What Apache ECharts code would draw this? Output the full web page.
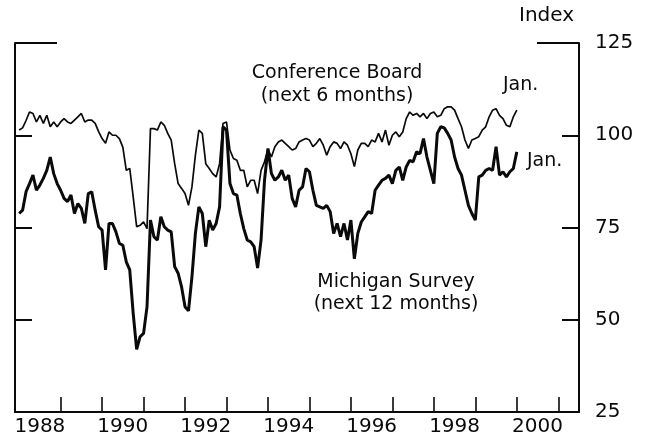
<!DOCTYPE html>
<html>
<head>
<meta charset="utf-8">
<script src="https://cdn.jsdelivr.net/npm/echarts@6/dist/echarts.min.js"></script>
<style>
html, body { margin: 0; padding: 0; background: #fff; }
#chart { width: 650px; height: 448px; }
</style>
</head>
<body>
<div id="chart"></div>
<script>
// monthly, Jan 1988 .. Jan 2000
var startYear = 1988;
var conferenceBoard = [
	101.4, 102, 104, 106.3, 105.9, 103.6, 105.4, 103.2, 105.4, 102.3, 103.6, 102.3,
	103.6, 104.5, 103.6, 103.2, 104.1, 105, 105.9, 103.6, 104.1, 104.1, 103.2, 101,
	99.1, 97.8, 100.9, 100, 100, 99.1, 96.8, 90.5, 91, 83.3, 75.2, 75.6,
	76.5, 74.7, 101.8, 101.8, 101.4, 103.6, 102.7, 100.5, 98.7, 92.3, 86.9, 85.6,
	84.2, 81, 86, 94.6, 101.4, 100.5, 92.3, 91, 89.6, 88.7, 92.3, 103.2,
	103.6, 96, 93.7, 93.2, 90.5, 90.5, 86, 87.8, 87.8, 84.2, 90.5, 92.8,
	96.2, 94.1, 96.9, 98.2, 98.7, 97.8, 96.9, 96, 96.4, 98.2, 98.7, 99.1,
	98.7, 96.9, 97.8, 99.1, 97.3, 94.6, 96.9, 98.2, 97.8, 96.4, 98.2, 97.3,
	95, 91.5, 96, 97.8, 97.8, 96.9, 98.7, 98.2, 100.5, 98.2, 101.4, 97.3,
	100, 100.9, 99.6, 100.9, 104.5, 106.3, 105.4, 105.9, 105, 105.9, 104.5, 105.9,
	106.3, 105, 105.4, 107.2, 107.7, 107.7, 106.8, 104.5, 102.3, 98.7, 96.4, 98.7,
	99.1, 99.6, 101.4, 102.3, 105, 106.8, 107.2, 105.4, 104.5, 102.7, 102.3, 105,
	106.8
];
var michigan = [
	78.8, 79.7, 84.7, 86.9, 89.2, 85.1, 86.5, 88.3, 90.5, 94.1, 89.6, 86.9,
	85.1, 82.9, 82, 83.8, 78.8, 81.5, 80.2, 76.1, 84.2, 84.7, 79.7, 75.2,
	74.3, 63.5, 76.1, 76.1, 73.8, 70.7, 70.2, 65.7, 63.5, 51.7, 42, 45.4,
	46.3, 53.5, 77, 72.5, 71.6, 77.9, 75.2, 74.3, 73.8, 64.4, 62.6, 58.9,
	53.5, 52.4, 61.6, 73.4, 80.6, 78.8, 69.8, 77, 74.3, 76.1, 80.6, 102.3,
	101.4, 86.9, 84.2, 83.8, 78.8, 74.7, 71.6, 71.1, 69.8, 64, 71.6, 87.8,
	96.4, 89.6, 87.8, 88.7, 90.5, 87.8, 89.2, 82.9, 80.6, 85.1, 86, 91,
	90.1, 85.1, 81, 80.6, 80.2, 81, 79.3, 73.4, 76.1, 72.5, 76.1, 71.6,
	77, 66.5, 73.4, 76.5, 77.9, 79.3, 78.8, 85.1, 86.5, 87.8, 88.3, 89.2,
	86.9, 90.5, 91.4, 87.8, 91.4, 93.2, 92.8, 95.5, 95, 99.1, 94.1, 90.5,
	86.9, 100.5, 102.3, 102, 100.5, 98.7, 94.1, 91, 89.2, 85.1, 81, 78.8,
	77, 88.7, 89.2, 90.5, 91, 90.5, 96.9, 89.2, 90.1, 88.7, 90.1, 91,
	95.5
];
var yearTicks = [1989, 1990, 1991, 1992, 1993, 1994, 1995, 1996, 1997, 1998, 1999, 2000, 2001];
var yearLabels = [1988, 1990, 1992, 1994, 1996, 1998, 2000];

function toPairs(arr) {
	return arr.map(function(v, i) {
		return [startYear + i / 12, v];
	});
}

var myChart = echarts.init(document.getElementById('chart'));
var ink = '#0a0a0a';
var font = 'DejaVu Sans';

var option = {
	animation: false,
	textStyle: { fontFamily: font, color: ink },
	grid: { left: 15, right: 71, top: 43, bottom: 36 },
	xAxis: {
		type: 'value',
		min: 1987.9,
		max: 2001.5,
		splitLine: { show: false },
		axisLine: { show: true, lineStyle: { color: ink, width: 2 } },
		axisTick: {
			show: true,
			inside: true,
			length: 15,
			customValues: yearTicks,
			lineStyle: { color: ink, width: 1.6 }
		},
		axisLabel: {
			customValues: yearLabels.map(function(y) { return y + 0.5; }),
			formatter: function(v) { return String(Math.floor(v)); },
			fontSize: 20,
			color: ink,
			margin: 5,
			fontFamily: font
		}
	},
	yAxis: [{
		type: 'value',
		position: 'right',
		min: 25,
		max: 125,
		interval: 25,
		splitLine: { show: false },
		axisLine: { show: true, lineStyle: { color: ink, width: 2 } },
		axisTick: { show: true, inside: true, length: 17, lineStyle: { color: ink, width: 2 } },
		axisLabel: { fontSize: 20, color: ink, margin: 16, fontFamily: font }
	}, {
		type: 'value',
		position: 'left',
		min: 25,
		max: 125,
		interval: 25,
		splitLine: { show: false },
		axisLine: { show: true, lineStyle: { color: ink, width: 2 } },
		axisTick: { show: true, inside: true, length: 17, lineStyle: { color: ink, width: 2 } },
		axisLabel: { show: false }
	}],
	series: [{
		name: 'Conference Board',
		type: 'line',
		data: toPairs(conferenceBoard),
		showSymbol: false,
		lineStyle: { color: ink, width: 1.7 }
	}, {
		name: 'Michigan Survey',
		type: 'line',
		data: toPairs(michigan),
		showSymbol: false,
		lineStyle: { color: ink, width: 3 }
	}],
	graphic: [
		{ type: 'line', shape: { x1: 15, y1: 43, x2: 57, y2: 43 }, style: { stroke: ink, lineWidth: 2 } },
		{ type: 'line', shape: { x1: 537, y1: 43, x2: 579, y2: 43 }, style: { stroke: ink, lineWidth: 2 } },
		{ type: 'text', left: 519, top: 6, style: { text: 'Index', font: '20px "DejaVu Sans"', fill: ink } },
		{ type: 'text', x: 337, y: 62, style: { text: 'Conference Board\n(next 6 months)', font: '19px "DejaVu Sans"', fill: ink, align: 'center', lineHeight: 23 } },
		{ type: 'text', x: 503, y: 76, style: { text: 'Jan.', font: '19px "DejaVu Sans"', fill: ink } },
		{ type: 'text', x: 527, y: 152, style: { text: 'Jan.', font: '19px "DejaVu Sans"', fill: ink } },
		{ type: 'text', x: 396, y: 271, style: { text: 'Michigan Survey\n(next 12 months)', font: '19px "DejaVu Sans"', fill: ink, align: 'center', lineHeight: 22 } }
	]
};

myChart.setOption(option);
</script>
</body>
</html>
